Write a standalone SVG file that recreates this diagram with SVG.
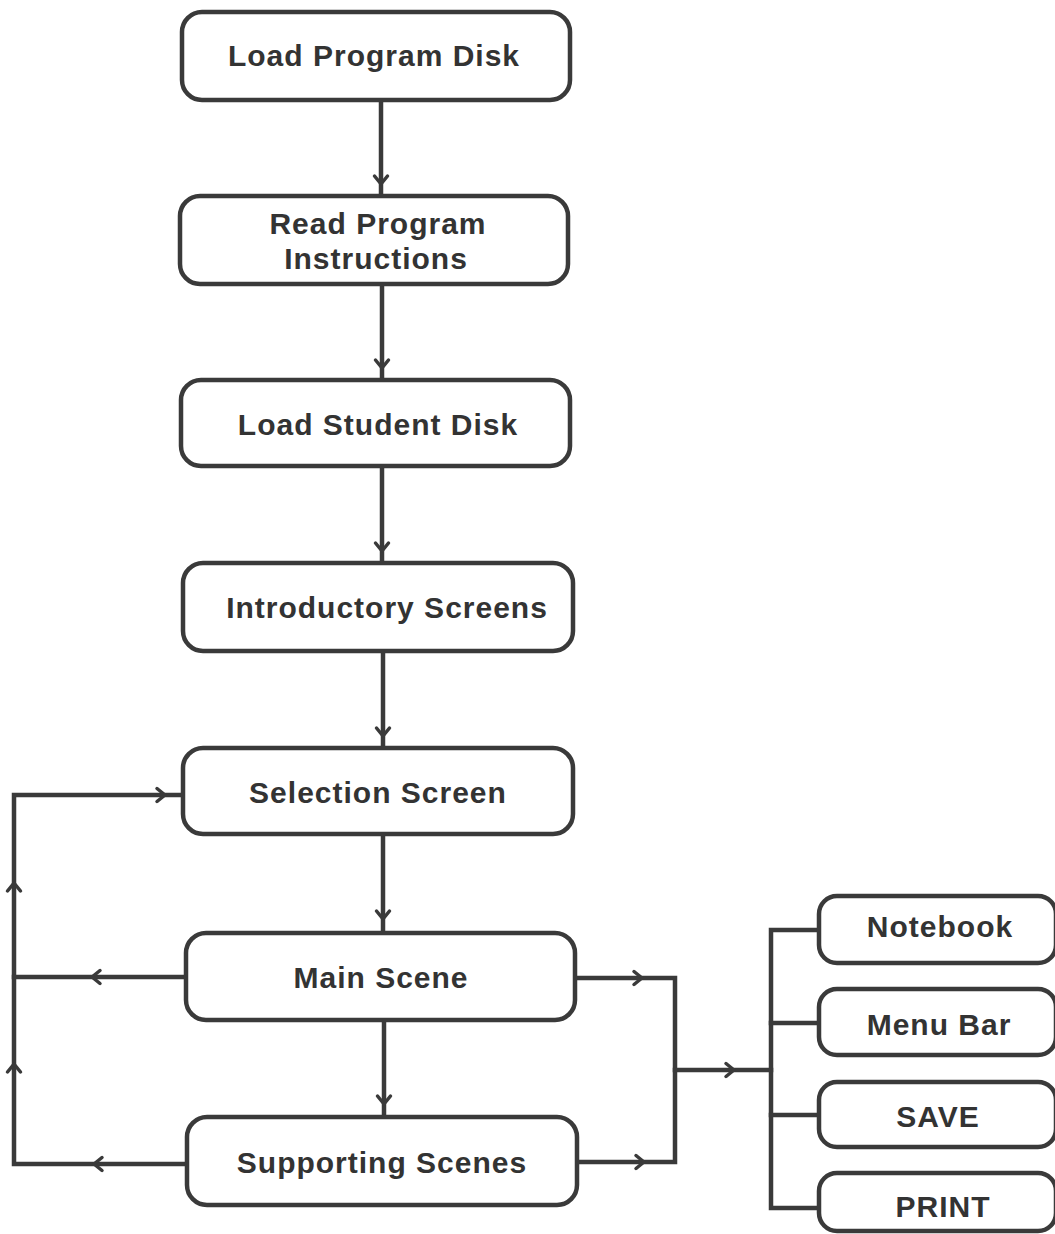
<svg xmlns="http://www.w3.org/2000/svg" xmlns:xlink="http://www.w3.org/1999/xlink" width="1055" height="1234" viewBox="0 0 1055 1234">
<style>
.box{fill:#fff;stroke:#3a3a3a;stroke-width:4.5}
.lbl{font-family:"Liberation Sans",Arial,sans-serif;font-weight:bold;font-size:30px;fill:#333;text-anchor:middle;letter-spacing:1px}
.ln{fill:none;stroke:#3a3a3a;stroke-width:4.5;stroke-linejoin:miter;stroke-linecap:square}
.ah{fill:none;stroke:#3a3a3a;stroke-width:3.5;stroke-linecap:round;stroke-linejoin:round}
</style>
<defs>
<path id="chev" d="M-8,-6.5 L0,0 L-8,6.5"/>
</defs>
<rect width="1055" height="1234" fill="#fff"/>
<g id="connectors">
<path class="ln" d="M381 100 V196"/>
<path class="ln" d="M382 284 V380"/>
<path class="ln" d="M382 466 V563"/>
<path class="ln" d="M383 651 V748"/>
<path class="ln" d="M383 834 V933"/>
<path class="ln" d="M384 1020 V1117"/>
<path class="ln" d="M187 1164 H14 V795 H183"/>
<path class="ln" d="M186 977 H14"/>
<path class="ln" d="M575 978 H675 V1162 H577"/>
<path class="ln" d="M675 1070 H771"/>
<path class="ln" d="M819 930 H771 V1208 H819"/>
<path class="ln" d="M771 1023 H819"/>
<path class="ln" d="M771 1115 H819"/>
<g class="ah">
<use xlink:href="#chev" transform="translate(381,184) rotate(90)"/>
<use xlink:href="#chev" transform="translate(382,368) rotate(90)"/>
<use xlink:href="#chev" transform="translate(382,551) rotate(90)"/>
<use xlink:href="#chev" transform="translate(383,736) rotate(90)"/>
<use xlink:href="#chev" transform="translate(383,919) rotate(90)"/>
<use xlink:href="#chev" transform="translate(384,1104) rotate(90)"/>
<use xlink:href="#chev" transform="translate(165,795)"/>
<use xlink:href="#chev" transform="translate(14,883) rotate(-90)"/>
<use xlink:href="#chev" transform="translate(14,1064) rotate(-90)"/>
<use xlink:href="#chev" transform="translate(92,977) rotate(180)"/>
<use xlink:href="#chev" transform="translate(94,1164) rotate(180)"/>
<use xlink:href="#chev" transform="translate(642,978)"/>
<use xlink:href="#chev" transform="translate(644,1162)"/>
<use xlink:href="#chev" transform="translate(734,1070)"/>
</g>
</g>
<g id="n1"><rect class="box" x="182" y="12" width="388" height="88" rx="20"/><text class="lbl" x="374" y="66">Load Program Disk</text></g>
<g id="n2"><rect class="box" x="180" y="196" width="388" height="88" rx="20"/><text class="lbl" x="378" y="234">Read Program</text><text class="lbl" x="376" y="269">Instructions</text></g>
<g id="n3"><rect class="box" x="181" y="380" width="389" height="86" rx="20"/><text class="lbl" x="378" y="435">Load Student Disk</text></g>
<g id="n4"><rect class="box" x="183" y="563" width="390" height="88" rx="20"/><text class="lbl" x="387" y="618">Introductory Screens</text></g>
<g id="n5"><rect class="box" x="183" y="748" width="390" height="86" rx="20"/><text class="lbl" x="378" y="803">Selection Screen</text></g>
<g id="n6"><rect class="box" x="186" y="933" width="389" height="87" rx="20"/><text class="lbl" x="381" y="988">Main Scene</text></g>
<g id="n7"><rect class="box" x="187" y="1117" width="390" height="88" rx="20"/><text class="lbl" x="382" y="1173">Supporting Scenes</text></g>
<g id="n8"><rect class="box" x="819" y="896" width="237" height="67" rx="18"/><text class="lbl" x="940" y="937">Notebook</text></g>
<g id="n9"><rect class="box" x="819" y="989" width="237" height="66" rx="18"/><text class="lbl" x="939" y="1035">Menu Bar</text></g>
<g id="n10"><rect class="box" x="819" y="1082" width="237" height="65" rx="18"/><text class="lbl" x="938" y="1127">SAVE</text></g>
<g id="n11"><rect class="box" x="819" y="1173" width="237" height="58" rx="18"/><text class="lbl" x="943" y="1217">PRINT</text></g>
</svg>
